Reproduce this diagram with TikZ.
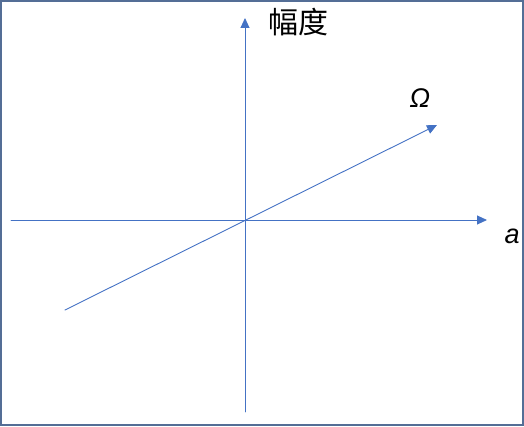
\documentclass[tikz,border=0pt]{standalone}
\usepackage{fontspec}
\usepackage{tkz-euclide}
\usetikzlibrary{arrows.meta}
\setmainfont{Liberation Sans}
\newfontfamily\cjk{Noto Sans CJK SC}
\definecolor{axisblue}{RGB}{68,114,196}
\definecolor{frameblue}{RGB}{84,110,150}

\begin{document}
\begin{tikzpicture}[x=1pt,y=1pt,
  axisline/.style={axisblue, line width=0.9pt, -{Triangle[length=10pt,width=9pt]}}]
  % 边框与图幅
  \tkzDefPoint(0,0){P0}
  \tkzDefPoint(524,426){P1}
  \useasboundingbox (P0) rectangle (P1);
  \draw[frameblue, line width=1.5pt] (1,1) rectangle (523,425);
  % 定义坐标轴端点
  \tkzDefPoint(11,206){W}
  \tkzDefPoint(487,206){E}
  \tkzDefPoint(245,14){S}
  \tkzDefPoint(245,408){N}
  % 定义斜线端点
  \tkzDefPoint(65,116){L}
  \tkzDefPoint(437,301){R}
  % 绘制坐标轴与斜线
  \tkzDrawSegment[axisline](W,E)
  \tkzDrawSegment[axisline](S,N)
  \tkzDrawSegment[axisline](L,R)
  % 标注
  \node[font=\cjk\fontsize{30}{30}\selectfont] (amp) at (298,404) {幅度};
  \node[font=\itshape\fontsize{27}{27}\selectfont] (omega) at (420,328) {Ω};
  \node[font=\itshape\fontsize{27}{27}\selectfont] (alpha) at (512,190) {a};
\end{tikzpicture}
\end{document}
